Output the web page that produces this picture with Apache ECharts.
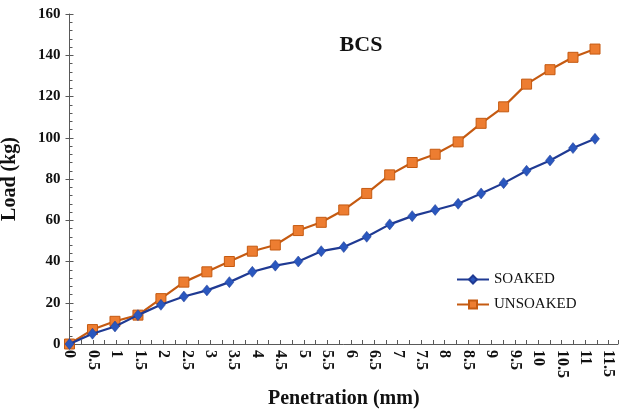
<!DOCTYPE html>
<html>
<head>
<meta charset="utf-8">
<script src="https://cdn.jsdelivr.net/npm/echarts@6/dist/echarts.min.js"></script>
<style>html,body{margin:0;padding:0;background:#fff}#c{width:621px;height:410px}</style>
</head>
<body>
<div id="c"></div>
<script>
// Penetration (mm) of each reading
const penetration = [0, 0.49, 0.97, 1.46, 1.95, 2.44, 2.93, 3.41, 3.9, 4.39, 4.88, 5.37, 5.85, 6.34, 6.83, 7.31, 7.8, 8.29, 8.78, 9.26, 9.75, 10.25, 10.74, 11.21];
const soaked   = [0, 5, 8.5, 14, 19, 23, 26, 30, 35, 38, 40, 45, 47, 52, 58, 62, 65, 68, 73, 78, 84, 89, 95, 99.5];
const unsoaked = [0, 7, 11, 14, 22, 30, 35, 40, 45, 48, 55, 59, 65, 73, 82, 88, 92, 98, 107, 115, 126, 133, 139, 143];
const seriesNames = ['SOAKED', 'UNSOAKED'];
const titleText = 'BCS';
const xName = 'Penetration (mm)';
const yName = 'Load (kg)';

const serif = '"Liberation Serif", "DejaVu Serif", serif';
const pair = (xs, ys) => xs.map((x, i) => [x, ys[i]]);

const chart = echarts.init(document.getElementById('c'));
chart.setOption({
  animation: false,
  backgroundColor: '#ffffff',
  title: {
    text: titleText, left: 356, top: 29, textAlign: 'center',
    textStyle: { fontFamily: serif, fontWeight: 'bold', fontSize: 22, color: '#111' }
  },
  legend: {
    orient: 'vertical', left: 451, top: 267, itemWidth: 32, itemHeight: 10, itemGap: 10,
    textStyle: { fontFamily: serif, fontSize: 15, color: '#111' },
    data: seriesNames
  },
  grid: { left: 69.5, top: 14, right: 3, bottom: 66, containLabel: false, outerBoundsMode: 'none' },
  xAxis: {
    type: 'value', min: 0, max: 11.7, interval: 0.5,
    name: xName, nameLocation: 'middle', nameGap: 45,
    nameTextStyle: { fontFamily: serif, fontWeight: 'bold', fontSize: 20, color: '#111' },
    axisLine: { lineStyle: { color: '#595959', width: 1 } },
    axisTick: { inside: true, length: 4, lineStyle: { color: '#595959' } },
    minorTick: { show: true, splitNumber: 2, length: 4, lineStyle: { color: '#595959' } },
    splitLine: { show: false },
    axisLabel: {
      rotate: -90, fontFamily: serif, fontWeight: 'bold', fontSize: 16, color: '#111', margin: 6,
      showMaxLabel: false, formatter: v => String(v)
    }
  },
  yAxis: [{
    type: 'value', min: 0, max: 160, interval: 20,
    name: yName, nameLocation: 'middle', nameGap: 50,
    nameTextStyle: { fontFamily: serif, fontWeight: 'bold', fontSize: 20, color: '#111' },
    axisLine: { show: true, lineStyle: { color: '#595959', width: 1 } },
    axisTick: { show: true, length: 4, lineStyle: { color: '#595959' } },
    splitLine: { show: false },
    axisLabel: { fontFamily: serif, fontWeight: 'bold', fontSize: 15, color: '#111', margin: 9 }
  }, {
    type: 'value', min: 0, max: 160, interval: 20, position: 'left',
    axisLine: { show: false },
    axisTick: { show: true, inside: true, length: 4, lineStyle: { color: '#595959' } },
    minorTick: { show: true, splitNumber: 5, length: 3, lineStyle: { color: '#595959' } },
    splitLine: { show: false },
    axisLabel: { show: false }
  }],
  series: [{
    name: seriesNames[0], type: 'line', data: pair(penetration, soaked),
    symbol: 'diamond', symbolSize: [9, 11],
    lineStyle: { color: '#1f3a93', width: 2.2 },
    itemStyle: { color: '#2a57be', borderColor: '#1f3a93', borderWidth: 0.5 },
    z: 3
  }, {
    name: seriesNames[1], type: 'line', data: pair(penetration, unsoaked),
    symbol: 'rect', symbolSize: 10,
    lineStyle: { color: '#c55a11', width: 2.2 },
    itemStyle: { color: '#ed7d31', borderColor: '#c55a11', borderWidth: 1 },
    z: 2
  }]
});
</script>
</body>
</html>
